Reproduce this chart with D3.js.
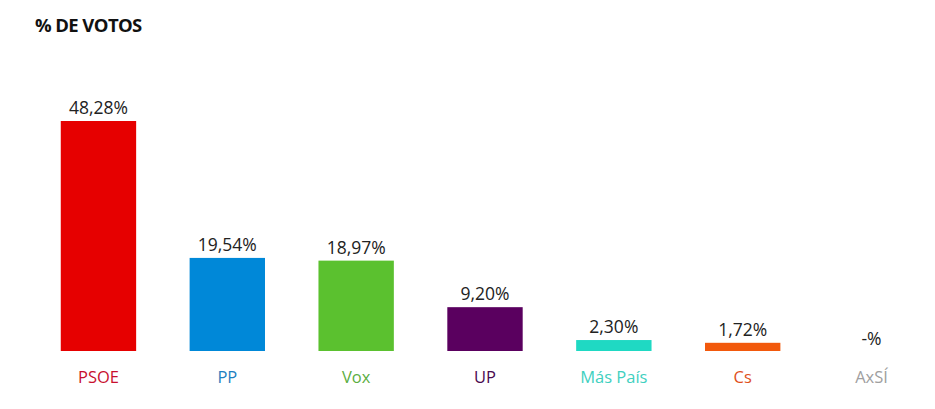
<!DOCTYPE html>
<html><head><meta charset="utf-8">
<script src="https://cdn.jsdelivr.net/npm/d3@7"></script>
<style>body{margin:0;background:#fff;}svg{display:block;font-family:"Open Sans",sans-serif;}</style>
</head><body><svg id="c" width="935" height="409"></svg>
<script>
const categories = ["PSOE","PP","Vox","UP","Más País","Cs","AxSÍ"];
const values = [48.28, 19.54, 18.97, 9.20, 2.30, 1.72, null];
const valueLabels = ["48,28%","19,54%","18,97%","9,20%","2,30%","1,72%","-%"];
const barColors = ["#e60000","#0088d8","#5bc12f","#5a005f","#1fd9c3","#f2590c","#b0b0b0"];
const labelColors = ["#c8102e","#1f7fc0","#5cae3f","#4a0a50","#3fd0c0","#e0501a","#a0a0a0"];

const svg = d3.select("#c");
const baseline = 351;
const x = d3.scaleBand().domain(categories).range([35, 935]).paddingInner(0.415).paddingOuter(0.2);
const y = d3.scaleLinear().domain([0, 48.28]).range([baseline, 121]);

svg.append("text").attr("x", 35).attr("y", 32).attr("font-size", 18.5).attr("font-weight", 700)
  .attr("letter-spacing", -0.6).attr("fill", "#111").text("% DE VOTOS");

const g = svg.append("g");
categories.forEach((c, i) => {
  const v = values[i] == null ? 0 : values[i];
  if (values[i] != null) {
    g.append("rect").attr("x", x(c)).attr("y", y(v)).attr("width", x.bandwidth())
      .attr("height", baseline - y(v)).attr("fill", barColors[i]);
  }
  g.append("text").attr("x", x(c) + x.bandwidth()/2).attr("y", y(v) - (values[i]==null ? 6 : 7))
    .attr("text-anchor", "middle").attr("font-size", 17.5).attr("fill", "#222").text(valueLabels[i]);
  g.append("text").attr("x", x(c) + x.bandwidth()/2).attr("y", 383)
    .attr("text-anchor", "middle").attr("font-size", 16.5).attr("fill", labelColors[i]).text(c);
});
</script></body></html>
